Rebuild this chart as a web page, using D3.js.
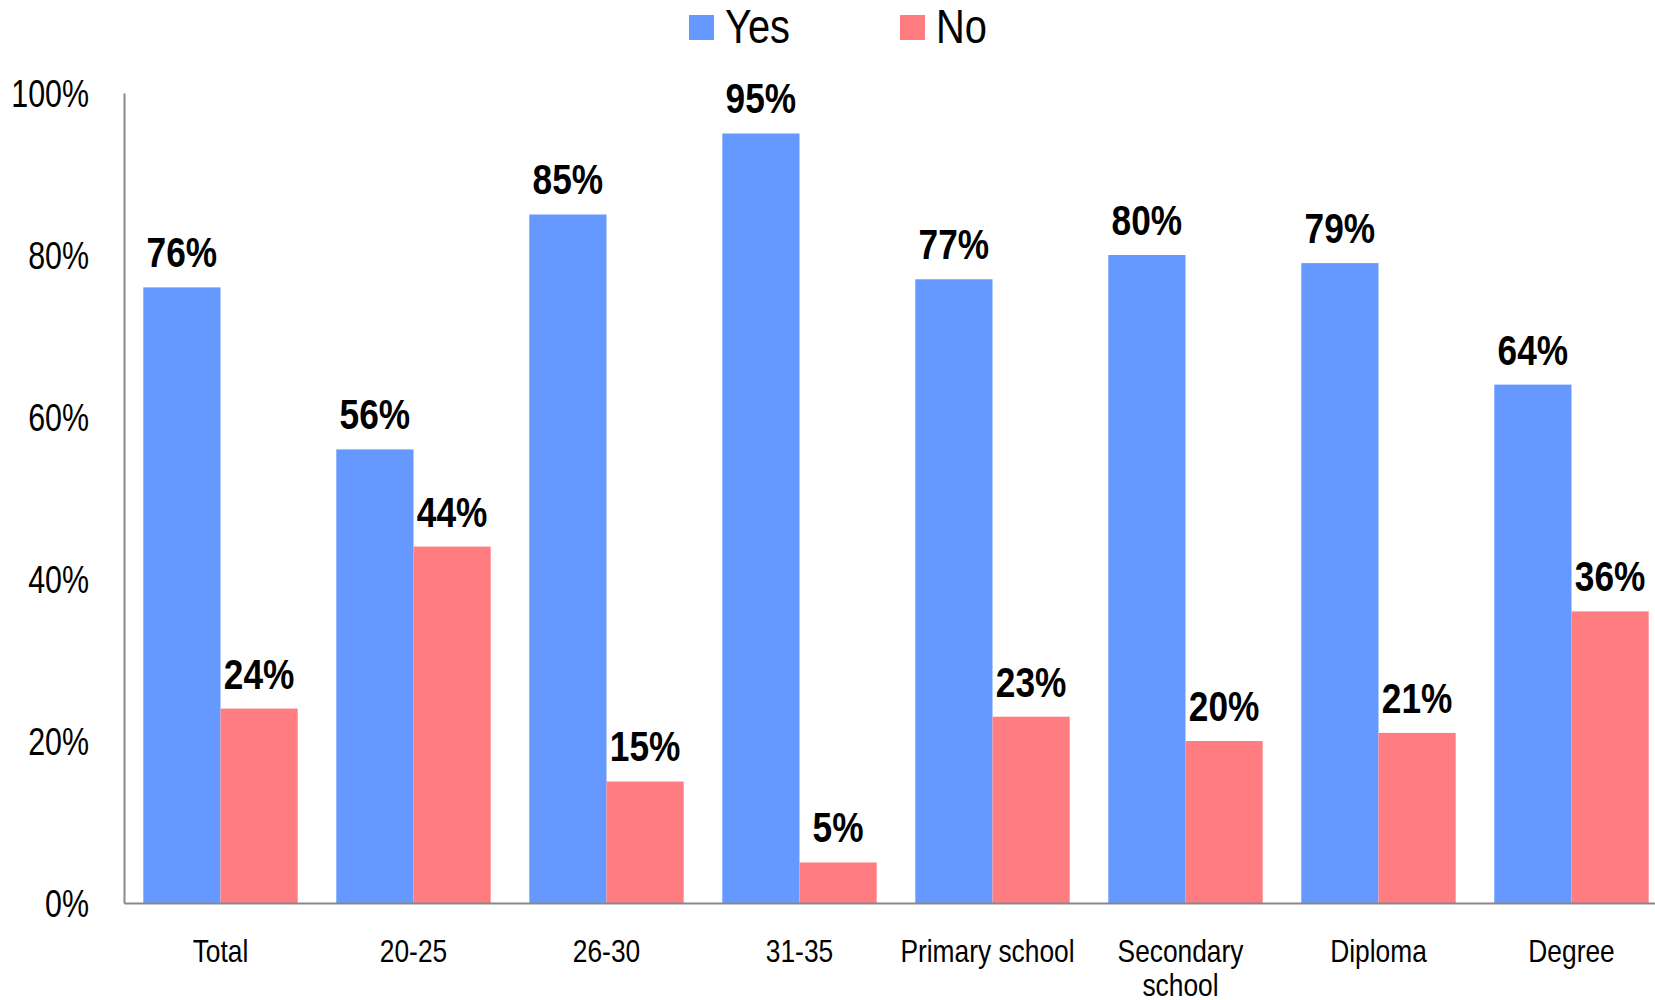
<!DOCTYPE html>
<html>
<head>
<meta charset="utf-8">
<script src="https://cdn.jsdelivr.net/npm/d3@7"></script>
<style>
  body { margin: 0; background: #fff; }
  svg text { font-family: "Liberation Sans", Arial, sans-serif; }
</style>
</head>
<body>
<div id="chart"></div>
<script>
// chart values
var categories = ["Total", "20-25", "26-30", "31-35", "Primary school", "Secondary school", "Diploma", "Degree"];
var yesValues = [76, 56, 85, 95, 77, 80, 79, 64];
var noValues = [24, 44, 15, 5, 23, 20, 21, 36];
var seriesNames = ["Yes", "No"];
var yTicks = [0, 20, 40, 60, 80, 100];

var width = 1655, height = 1000;
var colors = { Yes: "#6699ff", No: "#ff7c80" };
// the original uses a narrow face; no narrow font here, so squeeze the normal one
var sqY = 0.8, sqX = 0.85, sqVal = 0.82, sqLeg = 0.83;

var rows = categories.map(function (c, i) {
  return { cat: c, Yes: yesValues[i], No: noValues[i] };
});

var svg = d3.select("#chart").append("svg")
  .attr("width", width)
  .attr("height", height);

// the plot runs off the right edge, like the original
var x = d3.scaleBand()
  .domain(categories)
  .range([124, 1668])
  .paddingInner(0.2)
  .paddingOuter(0.1);

var xSub = d3.scaleBand()
  .domain(seriesNames)
  .range([0, x.bandwidth()]);

var y = d3.scaleLinear()
  .domain([0, 100])
  .range([903, 93]);

// bars
var groups = svg.append("g").selectAll("g")
  .data(rows)
  .enter().append("g")
  .attr("transform", function (d) { return "translate(" + x(d.cat) + ",0)"; });

function pairs(d) {
  return seriesNames.map(function (s) { return { s: s, v: d[s] }; });
}

groups.selectAll("rect")
  .data(pairs)
  .enter().append("rect")
  .attr("x", function (d) { return xSub(d.s); })
  .attr("width", xSub.bandwidth())
  .attr("y", function (d) { return y(d.v); })
  .attr("height", function (d) { return y(0) - y(d.v); })
  .attr("fill", function (d) { return colors[d.s]; });

groups.selectAll("text.val")
  .data(pairs)
  .enter().append("text")
  .attr("class", "val")
  .attr("transform", "scale(" + sqVal + ",1)")
  .attr("x", function (d) { return (xSub(d.s) + xSub.bandwidth() / 2) / sqVal; })
  .attr("y", function (d) { return y(d.v) - 20; })
  .attr("text-anchor", "middle")
  .style("font-size", "43px")
  .style("font-weight", "bold")
  .text(function (d) { return d.v + "%"; });

// y axis
var yAxis = svg.append("g")
  .attr("transform", "translate(124,0)")
  .call(d3.axisLeft(y).tickValues(yTicks).tickSize(0).tickPadding(35)
    .tickFormat(function (d) { return d + "%"; }));
yAxis.select(".domain").attr("stroke", "#878787").attr("stroke-width", 2);
yAxis.selectAll("text")
  .attr("transform", "scale(" + sqY + ",1)")
  .attr("x", -35 / sqY)
  .attr("dy", "0.36em")
  .style("font-size", "38px")
  .attr("fill", "#000");

// x axis
var xAxis = svg.append("g")
  .attr("transform", "translate(0,903)")
  .call(d3.axisBottom(x).tickSize(0).tickPadding(0));
xAxis.select(".domain").attr("stroke", "#878787").attr("stroke-width", 2);
xAxis.selectAll("text").remove();

// category labels, wrapped like the original
var wrapAt = { "Secondary school": ["Secondary", "school"] };
var nudge = { "Primary school": -5, "Secondary school": -5 };
xAxis.selectAll(".tick").each(function (d) {
  var lines = wrapAt[d] || [d];
  var t = d3.select(this).append("text")
    .attr("transform", "scale(" + sqX + ",1)")
    .attr("text-anchor", "middle")
    .attr("fill", "#000")
    .style("font-size", "31px");
  lines.forEach(function (l, i) {
    t.append("tspan").attr("x", (nudge[d] || 0) / sqX).attr("y", 59 + i * 34).text(l);
  });
});

// legend
var legendX = { Yes: 689, No: 900 };
var legend = svg.append("g").selectAll("g")
  .data(seriesNames)
  .enter().append("g")
  .attr("transform", function (d) { return "translate(" + legendX[d] + ",15)"; });
legend.append("rect")
  .attr("width", 25).attr("height", 25)
  .attr("fill", function (d) { return colors[d]; });
legend.append("text")
  .attr("transform", "translate(36,28) scale(" + sqLeg + ",1)")
  .style("font-size", "48px")
  .text(function (d) { return d; });
</script>
</body>
</html>
